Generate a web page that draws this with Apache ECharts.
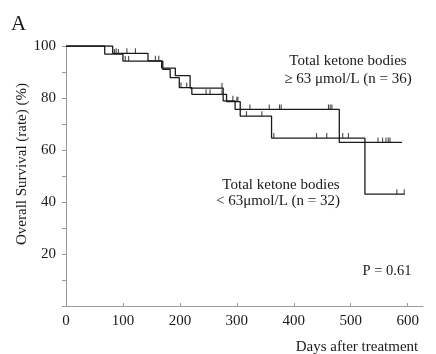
<!DOCTYPE html>
<html>
<head>
<meta charset="utf-8">
<script src="https://cdn.jsdelivr.net/npm/echarts@6/dist/echarts.min.js"></script>
<style>
  html, body { margin: 0; padding: 0; background: #fff; }
  #chart { width: 436px; height: 354px; }
</style>
</head>
<body>
<div id="chart"></div>
<script>
// Kaplan-Meier steps, >= 63 umol/L group (n = 36)
const highTimes = [0, 82, 144, 168, 192, 218, 276, 297, 480, 590];
const highSurv = [100, 97.2, 94.3, 91.5, 88.6, 83.8, 78.9, 75.6, 62.9, 62.9];
const highCensored = [88, 107, 122, 157, 163, 274, 293, 323, 357, 375, 378, 461, 464, 467, 548, 556, 562, 566, 569];

// Kaplan-Meier steps, < 63 umol/L group (n = 32)
const lowTimes = [0, 68, 100, 170, 183, 199, 221, 282, 306, 361, 525, 595];
const lowSurv = [100, 96.9, 94.2, 91.0, 87.8, 84.0, 81.4, 78.6, 73.0, 64.6, 43.0, 43.0];
const lowCensored = [85, 92, 104, 110, 202, 212, 246, 253, 274, 300, 302, 317, 344, 365, 440, 458, 486, 496, 581, 594];

const xTicks = [0, 100, 200, 300, 400, 500, 600];
const yLabels = [20, 40, 60, 80, 100];

const FONT = '"Liberation Serif", "Times New Roman", serif';
const INK = '#1a1a1a';

// survival value of a step curve at time t
function survAt(times, surv, t) {
  let s = surv[0];
  for (let i = 0; i < times.length; i++) {
    if (times[i] <= t) s = surv[i];
  }
  return s;
}

const curve = (times, surv) => times.map((t, i) => [t, surv[i]]);
const ticks = (cens, times, surv) => cens.map((t) => [t, survAt(times, surv, t)]);

const chart = echarts.init(document.getElementById('chart'));

const stepLine = (name, data) => ({
  name: name,
  type: 'line',
  step: 'end',
  data: data,
  showSymbol: false,
  silent: true,
  lineStyle: { color: INK, width: 1.3 },
});

const censorMarks = (name, data) => ({
  name: name,
  type: 'scatter',
  data: data,
  symbol: 'rect',
  symbolSize: [1.1, 5],
  symbolOffset: [0, '-50%'],
  itemStyle: { color: INK },
  silent: true,
});

const txt = (text, x, y, size) => ({
  type: 'text', x: x, y: y,
  style: { text: text, font: size + 'px ' + FONT, fill: INK, align: 'center', verticalAlign: 'middle' },
});

chart.setOption({
  animation: false,
  grid: { left: 66, right: 13, top: 46, bottom: 48 },
  xAxis: {
    type: 'value',
    min: 0,
    max: 627,
    axisLine: { lineStyle: { color: '#9a9a9a', width: 1 } },
    axisTick: { customValues: xTicks, inside: true, length: 3, lineStyle: { color: '#9a9a9a' } },
    axisLabel: { customValues: xTicks, color: INK, fontFamily: FONT, fontSize: 15, margin: 8 },
    splitLine: { show: false },
  },
  yAxis: {
    type: 'value',
    min: 0,
    max: 100,
    interval: 10,
    axisLine: { show: true, lineStyle: { color: '#9a9a9a', width: 1 } },
    axisTick: { show: true, length: 4, lineStyle: { color: '#9a9a9a' } },
    axisLabel: {
      color: INK,
      fontFamily: FONT,
      fontSize: 15,
      margin: 10,
      formatter: (v) => (yLabels.includes(v) ? String(v) : ''),
    },
    splitLine: { show: false },
  },
  series: [
    stepLine('high', curve(highTimes, highSurv)),
    stepLine('low', curve(lowTimes, lowSurv)),
    censorMarks('highCensored', ticks(highCensored, highTimes, highSurv)),
    censorMarks('lowCensored', ticks(lowCensored, lowTimes, lowSurv)),
  ],
  graphic: [
    { type: 'text', left: 11, top: 14, style: { text: 'A', font: '21px ' + FONT, fill: INK } },
    Object.assign(txt('Overall Survival (rate) (%)', 22, 164, 15), { rotation: Math.PI / 2 }),
    txt('Days after treatment', 357, 347, 15),
    txt('Total ketone bodies', 348, 61, 15),
    txt('\u2265 63 \u03bcmol/L (n = 36)', 348, 79, 15),
    txt('Total ketone bodies', 281, 185, 15),
    txt('< 63\u03bcmol/L (n = 32)', 278, 201, 15),
    txt('P = 0.61', 387, 271, 14.5),
  ],
});
</script>
</body>
</html>
